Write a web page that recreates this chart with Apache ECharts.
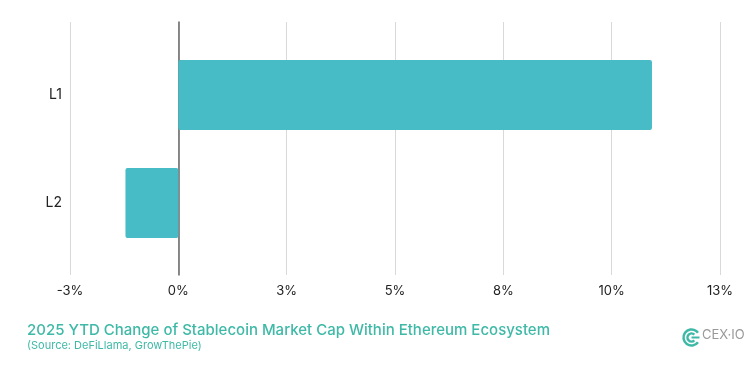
<!DOCTYPE html>
<html>
<head>
<meta charset="utf-8">
<script src="https://cdn.jsdelivr.net/npm/echarts@6/dist/echarts.min.js"></script>
<style>
  html, body { margin: 0; padding: 0; background: #fff; }
  #chart { width: 750px; height: 375px; }
</style>
</head>
<body>
<div id="chart"></div>
<script>
// data
var categories = ['L1', 'L2']
var ytdChange = [10.93, -1.22] // %
var axisMin = -2.5
var axisMax = 12.5
var axisStep = 2.5

var titleText = '2025 YTD Change of Stablecoin Market Cap Within Ethereum Ecosystem'
var sourceText = '(Source: DeFiLlama, GrowThePie)'

var teal = '#3fb9a7'
var barColor = '#47bbc6'
var fontFam = 'Inter, "Noto Sans", sans-serif'

var myChart = echarts.init(document.getElementById('chart'))

// -2.5 -> -3%, 2.5 -> 3% ...
function pct(v) {
  return (Math.sign(v) * Math.round(Math.abs(v))) + '%'
}

var option = {
  backgroundColor: '#fff',
  animation: false,
  textStyle: { fontFamily: fontFam },
  title: {
    left: 22,
    top: 318,
    text: titleText,
    subtext: sourceText,
    itemGap: 2,
    textStyle: { fontSize: 15, fontWeight: 500, color: teal, fontFamily: fontFam },
    subtextStyle: { fontSize: 11, color: teal, fontFamily: fontFam }
  },
  grid: [
    // outer grid: grid lines + tick labels
    { left: 70, right: 30, top: 22, bottom: 100 },
    // inner grid: bars
    { left: 70, right: 30, top: 41, bottom: 118 }
  ],
  xAxis: [
    {
      gridIndex: 0,
      type: 'value',
      min: axisMin,
      max: axisMax,
      interval: axisStep,
      axisLine: { show: false },
      axisTick: { show: false },
      axisLabel: { formatter: pct, fontSize: 13, color: '#222', margin: 10 },
      splitLine: { lineStyle: { color: '#d9d9d9', width: 1 } }
    },
    {
      gridIndex: 1,
      type: 'value',
      min: axisMin,
      max: axisMax,
      interval: axisStep,
      show: false
    }
  ],
  yAxis: [
    {
      gridIndex: 0,
      type: 'value',
      min: 0,
      max: 1,
      axisLabel: { show: false },
      axisTick: { show: false },
      splitLine: { show: false },
      axisLine: { show: true, onZero: true, lineStyle: { color: '#666', width: 1.5 } }
    },
    {
      gridIndex: 1,
      type: 'category',
      inverse: true,
      data: categories,
      axisLine: { show: false },
      axisTick: { show: false },
      axisLabel: { fontSize: 14, color: '#222', margin: 8 }
    }
  ],
  series: [
    {
      type: 'bar',
      xAxisIndex: 1,
      yAxisIndex: 1,
      barWidth: 70,
      itemStyle: { color: barColor, borderRadius: 2 },
      data: ytdChange,
      z: 3
    }
  ],
  graphic: [
    {
      type: 'group',
      left: 681,
      top: 327,
      children: [
        { type: 'arc', shape: { cx: 9, cy: 9, r: 8, startAngle: Math.PI * 0.2, endAngle: Math.PI * 1.8, clockwise: true }, style: { stroke: teal, lineWidth: 2.5, fill: null } },
        { type: 'arc', shape: { cx: 9, cy: 9, r: 4, startAngle: Math.PI * 0.25, endAngle: Math.PI * 1.75, clockwise: true }, style: { stroke: teal, lineWidth: 2.5, fill: null } },
        { type: 'line', shape: { x1: 9, y1: 9, x2: 17, y2: 9 }, style: { stroke: teal, lineWidth: 2 } }
      ]
    },
    {
      type: 'text',
      left: 702,
      top: 329,
      style: { text: 'CEX·IO', fontSize: 13, fill: '#999', fontFamily: fontFam }
    }
  ]
}

myChart.setOption(option)
</script>
</body>
</html>
